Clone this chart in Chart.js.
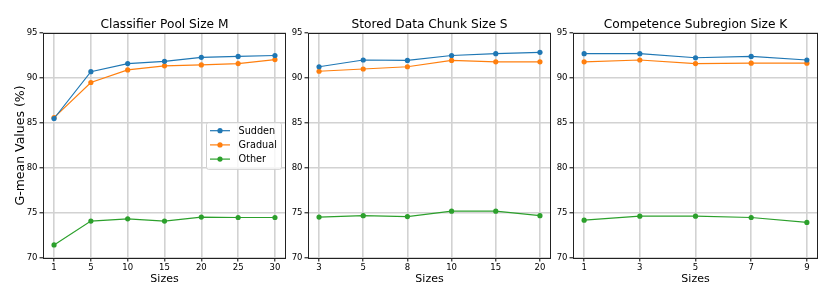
<!DOCTYPE html>
<html>
<head>
<meta charset="utf-8">
<script src="https://cdn.jsdelivr.net/npm/chart.js@4.4.1/dist/chart.umd.min.js"></script>
<style>
  html, body { margin: 0; padding: 0; background: #fff; }
  #wrap { position: relative; width: 832px; height: 291px; overflow: hidden; }
  canvas { position: absolute; top: 0; }
</style>
</head>
<body>
<div id="wrap">
  <canvas id="poolChart" width="290" height="291" style="left:0px"></canvas>
  <canvas id="chunkChart" width="265" height="291" style="left:290px"></canvas>
  <canvas id="subChart" width="277" height="291" style="left:555px"></canvas>
</div>
<script>
// valeurs
const seriesNames = ["Sudden", "Gradual", "Other"];
const seriesColors = ["#1f77b4", "#ff7f0e", "#2ca02c"];

const poolSizes = ["1", "5", "10", "15", "20", "25", "30"];
const poolSudden = [85.5, 90.7, 91.6, 91.85, 92.3, 92.4, 92.5];
const poolGradual = [85.6, 89.5, 90.9, 91.35, 91.45, 91.6, 92.05];
const poolOther = [71.45, 74.1, 74.35, 74.1, 74.55, 74.5, 74.5];

const chunkSizes = ["3", "5", "8", "10", "15", "20"];
const chunkSudden = [91.25, 92.0, 91.95, 92.5, 92.7, 92.85];
const chunkGradual = [90.75, 91.0, 91.25, 91.95, 91.8, 91.8];
const chunkOther = [74.55, 74.7, 74.6, 75.2, 75.2, 74.7];

const subSizes = ["1", "3", "5", "7", "9"];
const subSudden = [92.7, 92.7, 92.25, 92.4, 92.0];
const subGradual = [91.8, 92.0, 91.6, 91.65, 91.65];
const subOther = [74.2, 74.65, 74.65, 74.5, 73.95];

const yTicks = [70, 75, 80, 85, 90, 95];

const FONT = "'DejaVu Sans', 'Liberation Sans', sans-serif";

/**
 * Cadre noir autour de la zone de tracé + titre centré sur cette zone.
 */
const framePlugin = {
    id: "frame",
    afterDatasetsDraw(chart, args, opts) {
        const { ctx, chartArea: a } = chart;
        ctx.save();
        ctx.strokeStyle = "#222";
        ctx.lineWidth = 1;
        ctx.strokeRect(a.left + 0.5, a.top + 0.5, a.right - a.left - 1, a.bottom - a.top);
        ctx.fillStyle = "#000";
        ctx.font = `12.2px ${FONT}`;
        ctx.textAlign = "center";
        ctx.textBaseline = "middle";
        ctx.fillText(opts.text || "", (a.left + a.right) / 2, a.top - 8.5);
        ctx.restore();
    },
};

/**
 * Légende dessinée à l'intérieur du graphique (position "center right").
 */
const insideLegend = {
    id: "insideLegend",
    afterDraw(chart, args, opts) {
        if (!opts.display) return;
        const { ctx, chartArea: a } = chart;
        const sets = chart.data.datasets;
        const boxW = 75, rowH = 14.2, boxH = sets.length * rowH + 4;
        const x0 = a.right - 5 - boxW;
        const y0 = (a.top + a.bottom) / 2 - boxH / 2;
        ctx.save();
        ctx.beginPath();
        ctx.roundRect(x0 + 0.5, y0 + 0.5, boxW, boxH, 2);
        ctx.fillStyle = "rgba(255,255,255,0.8)";
        ctx.fill();
        ctx.strokeStyle = "#d0d0d0";
        ctx.lineWidth = 1;
        ctx.stroke();
        ctx.font = `9.7px ${FONT}`;
        ctx.textBaseline = "middle";
        ctx.textAlign = "left";
        sets.forEach((ds, i) => {
            const y = y0 + 8.5 + i * rowH;
            ctx.strokeStyle = ds.borderColor;
            ctx.lineWidth = 1.2;
            ctx.beginPath();
            ctx.moveTo(x0 + 4, y);
            ctx.lineTo(x0 + 24, y);
            ctx.stroke();
            ctx.fillStyle = ds.borderColor;
            ctx.beginPath();
            ctx.arc(x0 + 14, y, 2.6, 0, Math.PI * 2);
            ctx.fill();
            ctx.fillStyle = "#000";
            ctx.fillText(ds.label, x0 + 32.5, y + 0.5);
        });
        ctx.restore();
    },
};

function makeDatasets(valueLists) {
    return valueLists.map((values, k) => ({
        label: seriesNames[k],
        data: values.map((v, i) => ({ x: i, y: v })),
        borderColor: seriesColors[k],
        backgroundColor: seriesColors[k],
        pointBackgroundColor: seriesColors[k],
        pointBorderWidth: 0,
        pointRadius: 2.6,
        borderWidth: 1.2,
        tension: 0,
        clip: false,
    }));
}

function renderPanel(id, title, sizes, valueLists, cfg) {
    const margin = 0.05 * (sizes.length - 1);
    const gridColor = "#d2d2d2";
    return new Chart(document.getElementById(id), {
        type: "line",
        data: { datasets: makeDatasets(valueLists) },
        options: {
            responsive: false,
            animation: false,
            devicePixelRatio: 1,
            layout: { padding: { left: 0, right: cfg.padRight, top: 33, bottom: 0 } },
            plugins: {
                legend: { display: false },
                tooltip: { enabled: false },
                title: { display: false },
                frame: { text: title },
                insideLegend: { display: !!cfg.legend },
            },
            scales: {
                x: {
                    type: "linear",
                    min: -margin,
                    max: sizes.length - 1 + margin,
                    afterBuildTicks: (s) => {
                        s.ticks = sizes.map((_, i) => ({ value: i }));
                    },
                    afterFit: (s) => { s.height = 33; },
                    ticks: {
                        color: "#000",
                        font: { family: FONT, size: 8.5 },
                        padding: 1,
                        maxRotation: 0,
                        autoSkip: false,
                        callback: (v) => sizes[v],
                    },
                    grid: {
                        color: gridColor,
                        lineWidth: 1.6,
                        tickColor: "#000",
                        tickLength: 3.5,
                        tickWidth: 1,
                    },
                    border: { display: false },
                    title: {
                        display: true,
                        text: "Sizes",
                        color: "#000",
                        font: { family: FONT, size: 11 },
                        padding: { top: 0, bottom: 5 },
                    },
                },
                y: {
                    type: "linear",
                    min: 70,
                    max: 95,
                    afterBuildTicks: (s) => {
                        s.ticks = yTicks.map((v) => ({ value: v }));
                    },
                    afterFit: (s) => { s.width = cfg.yWidth; },
                    ticks: {
                        color: "#000",
                        font: { family: FONT, size: 8.5 },
                        padding: 2,
                    },
                    grid: {
                        color: gridColor,
                        lineWidth: 1.6,
                        tickColor: "#000",
                        tickLength: 3.5,
                        tickWidth: 1,
                    },
                    border: { display: false },
                    title: {
                        display: !!cfg.yTitle,
                        text: "G-mean Values (%)",
                        color: "#000",
                        font: { family: FONT, size: 12.5 },
                        padding: { top: 13.5, bottom: 0 },
                    },
                },
            },
        },
        plugins: [framePlugin, insideLegend],
    });
}

renderPanel("poolChart", "Classifier Pool Size M", poolSizes,
    [poolSudden, poolGradual, poolOther],
    { yWidth: 43, padRight: 2, yTitle: true, legend: true });

renderPanel("chunkChart", "Stored Data Chunk Size S", chunkSizes,
    [chunkSudden, chunkGradual, chunkOther],
    { yWidth: 18, padRight: 2 });

renderPanel("subChart", "Competence Subregion Size K", subSizes,
    [subSudden, subGradual, subOther],
    { yWidth: 18, padRight: 14 });
</script>
</body>
</html>
